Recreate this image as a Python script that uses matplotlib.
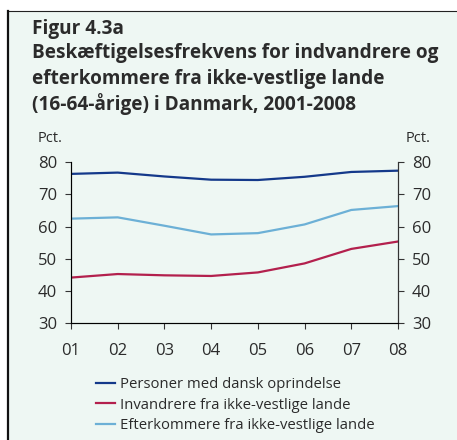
import matplotlib.pyplot as plt
from matplotlib.patches import Rectangle
from matplotlib.lines import Line2D

plt.rcParams['font.family'] = ['Open Sans', 'DejaVu Sans']

# Data
years = [1, 2, 3, 4, 5, 6, 7, 8]
year_labels = ["01", "02", "03", "04", "05", "06", "07", "08"]
dansk = [76.4, 76.8, 75.6, 74.6, 74.5, 75.5, 77.0, 77.4]
invandrere = [44.2, 45.3, 44.9, 44.7, 45.8, 48.6, 53.1, 55.4]
efterkommere = [62.5, 62.9, 60.3, 57.6, 58.0, 60.7, 65.2, 66.4]
series_names = ["Personer med dansk oprindelse",
                "Invandrere fra ikke-vestlige lande",
                "Efterkommere fra ikke-vestlige lande"]
colors = ["#14398a", "#b3204d", "#6cb0d6"]
text_col = "#2b2b2b"
bg = "#eef7f3"

W, H = 457, 440
fig = plt.figure(figsize=(W / 100, H / 100), dpi=100)
fig.patch.set_facecolor("white")

# mint baggrund + kantlinjer
fig.patches.append(Rectangle((8 / W, 0), 1 - 8 / W, 1 - 11 / H, transform=fig.transFigure,
                             facecolor=bg, edgecolor="none", zorder=-5))
fig.add_artist(Line2D([8 / W, 1], [1 - 11 / H, 1 - 11 / H], transform=fig.transFigure,
                      color="#222222", lw=0.8))
fig.add_artist(Line2D([8 / W, 8 / W], [0, 1 - 11 / H], transform=fig.transFigure,
                      color="#111111", lw=1.6))

# titel
fig.text(32 / W, 1 - 34 / H, "Figur 4.3a", fontsize=13.7, fontweight="bold",
         color=text_col, va="baseline")
title_lines = ["Beskæftigelsesfrekvens for indvandrere og",
               "efterkommere fra ikke-vestlige lande",
               "(16-64-årige) i Danmark, 2001-2008"]
for i, t in enumerate(title_lines):
    fig.text(32 / W, 1 - (58 + 26 * i) / H, t, fontsize=13.7, fontweight="bold",
             color=text_col, va="baseline")

ax = fig.add_axes([71 / W, 1 - 323.3 / H, (398 - 71) / W, (323.3 - 162.3) / H])
ax.set_facecolor("none")
ax.plot(years, dansk, color=colors[0], lw=1.6, label=series_names[0])
ax.plot(years, invandrere, color=colors[1], lw=1.6, label=series_names[1])
ax.plot(years, efterkommere, color=colors[2], lw=1.6, label=series_names[2])

ax.set_xlim(1, 8)
ax.set_ylim(30, 80)
ax.set_xticks(years)
ax.set_xticklabels(year_labels)
ax.set_yticks(range(30, 81, 10))
ax.spines["top"].set_visible(False)
for s in ["left", "right", "bottom"]:
    ax.spines[s].set_color("#333333")
    ax.spines[s].set_linewidth(0.8)
ax.tick_params(axis="both", colors="#333333", labelcolor=text_col, labelsize=12,
               width=0.8, length=4, direction="out")
ax.tick_params(axis="x", pad=10)
ax.tick_params(axis="y", pad=6)

ax2 = ax.twinx()
ax2.set_ylim(30, 80)
ax2.set_yticks(range(30, 81, 10))
ax2.spines["top"].set_visible(False)
ax2.spines["right"].set_color("#333333")
ax2.spines["right"].set_linewidth(0.8)
ax2.tick_params(axis="y", colors="#333333", labelcolor=text_col, labelsize=12,
                width=0.8, length=4, direction="out", pad=6)

fig.text(63 / W, 1 - 139 / H, "Pct.", fontsize=10.5, color=text_col, ha="right", va="center")
fig.text(406 / W, 1 - 139 / H, "Pct.", fontsize=10.5, color=text_col, ha="left", va="center")

handles = ax.get_lines()
leg = fig.legend(handles, series_names, loc="upper left", bbox_to_anchor=(96 / W, 1 - 377 / H),
                 frameon=False, fontsize=10.7, handlelength=1.3, handletextpad=0.3,
                 labelspacing=0.38, borderpad=0, borderaxespad=0)
for t in leg.get_texts():
    t.set_color(text_col)

fig.savefig("out.png", dpi=100, facecolor=fig.get_facecolor())
